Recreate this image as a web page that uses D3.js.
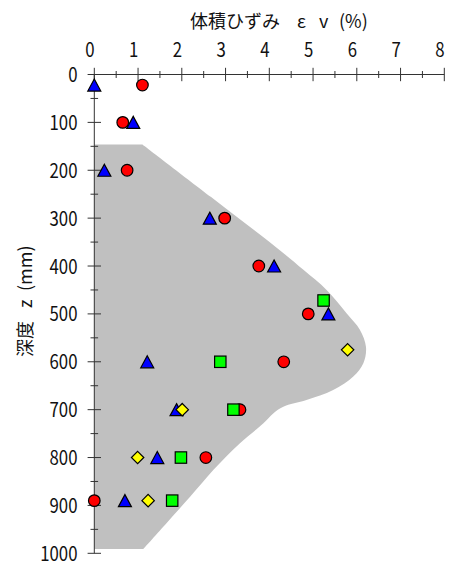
<!DOCTYPE html>
<html>
<head>
<meta charset="utf-8">
<script src="https://cdn.jsdelivr.net/npm/d3@7"></script>
<style>
  html, body { margin: 0; padding: 0; background: #fff; }
  svg { display: block; }
  .tick-label { font-family: "Noto Sans CJK JP", sans-serif; font-size: 20px; fill: #111; }
  .axis-title { font-family: "Noto Sans CJK JP", sans-serif; font-size: 18px; fill: #111; }
</style>
</head>
<body>
<svg id="chart" width="449" height="562"></svg>
<script>
// Volumetric strain vs depth
const xTicks = [0, 1, 2, 3, 4, 5, 6, 7, 8];
const yTicks = [0, 100, 200, 300, 400, 500, 600, 700, 800, 900, 1000];

// Series (strain %, depth mm)
const circleX = [1.1, 0.65, 0.75, 2.98, 3.76, 4.89, 4.33, 3.33, 2.55, 0.0];
const circleZ = [22, 100, 200, 300, 400, 500, 600, 700, 800, 890];
const triangleX = [0.0, 0.89, 0.23, 2.64, 4.11, 5.35, 1.21, 1.88, 1.44, 0.70];
const triangleZ = [22, 100, 200, 300, 400, 500, 600, 700, 800, 890];
const squareX = [5.24, 2.88, 3.18, 1.98, 1.78];
const squareZ = [472, 600, 700, 800, 890];
const diamondX = [5.79, 2.01, 0.99, 1.23];
const diamondZ = [575, 700, 800, 890];

// Shaded envelope: right boundary from top to bottom
const envelopeX = [1.1, 2.67, 4.24, 4.78, 5.31, 5.77, 6.07, 6.21, 6.15, 5.92, 5.46, 4.85, 4.32, 4.09, 3.86, 3.33, 2.72, 2.19, 1.65, 1.12];
const envelopeZ = [146, 256, 367, 408, 450, 499, 533, 569, 603, 631, 659, 680, 694, 708, 729, 770, 826, 882, 937, 991];

const svg = d3.select("#chart");
const x = d3.scaleLinear().domain([0, 8]).range([94.3, 444.3]);
const y = d3.scaleLinear().domain([0, 1000]).range([74.5, 553.3]);

// envelope
const edge = d3.line().x(d => x(d[0])).y(d => y(d[1])).curve(d3.curveCatmullRom.alpha(0.5));
const edgePts = envelopeX.map((v, i) => [v, envelopeZ[i]]);
const zTop = envelopeZ[0], zBot = envelopeZ[envelopeZ.length - 1];
const envPath = "M" + x(0) + "," + y(zTop) + "L" + edge(edgePts).slice(1) +
  "L" + x(0) + "," + y(zBot) + "Z";
svg.append("path").attr("d", envPath).attr("fill", "#c0c0c0").attr("stroke", "none");

// axes
const axisColor = "#333";
const gx = svg.append("g");
gx.append("line").attr("x1", x(0)).attr("x2", x(8)).attr("y1", y(0)).attr("y2", y(0))
  .attr("stroke", axisColor).attr("stroke-width", 1);
d3.range(0, 8.01, 0.5).forEach(v => {
  const major = Math.abs(v - Math.round(v)) < 1e-9;
  const h = major ? 6.7 : 3.5;
  gx.append("line").attr("x1", x(v)).attr("x2", x(v)).attr("y1", y(0) - h).attr("y2", y(0) + h)
    .attr("stroke", axisColor).attr("stroke-width", 1);
});
gx.selectAll("text").data(xTicks).join("text")
  .attr("class", "tick-label").attr("text-anchor", "middle")
  .attr("transform", d => `translate(${x(d) - 4.5},57) scale(0.84,1)`)
  .text(d => d);

const gy = svg.append("g");
gy.append("line").attr("x1", x(0)).attr("x2", x(0)).attr("y1", y(0)).attr("y2", y(1000))
  .attr("stroke", axisColor).attr("stroke-width", 1);
d3.range(0, 1000.1, 50).forEach(v => {
  const major = v % 100 === 0;
  const h = major ? 6.7 : 3.8;
  gy.append("line").attr("x1", x(0) - h).attr("x2", x(0) + h).attr("y1", y(v)).attr("y2", y(v))
    .attr("stroke", axisColor).attr("stroke-width", 1);
});
gy.selectAll("text").data(yTicks).join("text")
  .attr("class", "tick-label").attr("text-anchor", "end")
  .attr("transform", d => `translate(77.5,${y(d) + 7.5}) scale(0.84,1)`)
  .text(d => d);

// titles
const tx = svg.append("text").attr("class", "axis-title").attr("y", 28);
tx.append("tspan").attr("x", 190).text("体積ひずみ");
tx.append("tspan").attr("x", 297).text("ε");
tx.append("tspan").attr("x", 319).text("v");
tx.append("tspan").attr("x", 339).text("(%)");

const ty = svg.append("text").attr("class", "axis-title").attr("transform", "translate(32,357) rotate(-90)");
ty.append("tspan").attr("x", 0).text("深度");
ty.append("tspan").attr("x", 49).text("z");
ty.append("tspan").attr("x", 66).text("(mm)");

// markers
function applyStroke(sel) { return sel.attr("stroke", "#000").attr("stroke-width", 1.2); }

applyStroke(svg.append("g").selectAll("circle").data(circleX.map((v, i) => [v, circleZ[i]])).join("circle")
  .attr("cx", d => x(d[0])).attr("cy", d => y(d[1])).attr("r", 5.8).attr("fill", "#ff0000"));

const triW = 13, triH = 12;
applyStroke(svg.append("g").selectAll("path").data(triangleX.map((v, i) => [v, triangleZ[i]])).join("path")
  .attr("d", `M0,${-triH / 2}L${triW / 2},${triH / 2}L${-triW / 2},${triH / 2}Z`)
  .attr("transform", d => `translate(${x(d[0])},${y(d[1])})`).attr("fill", "#0000ff"));

const sq = 11.4;
applyStroke(svg.append("g").selectAll("rect").data(squareX.map((v, i) => [v, squareZ[i]])).join("rect")
  .attr("x", d => x(d[0]) - sq / 2).attr("y", d => y(d[1]) - sq / 2)
  .attr("width", sq).attr("height", sq).attr("fill", "#00ff00"));

const dh = 6.2;
applyStroke(svg.append("g").selectAll("path").data(diamondX.map((v, i) => [v, diamondZ[i]])).join("path")
  .attr("d", `M0,${-dh}L${dh},0L0,${dh}L${-dh},0Z`)
  .attr("transform", d => `translate(${x(d[0])},${y(d[1])})`).attr("fill", "#ffff00"));
</script>
</body>
</html>
